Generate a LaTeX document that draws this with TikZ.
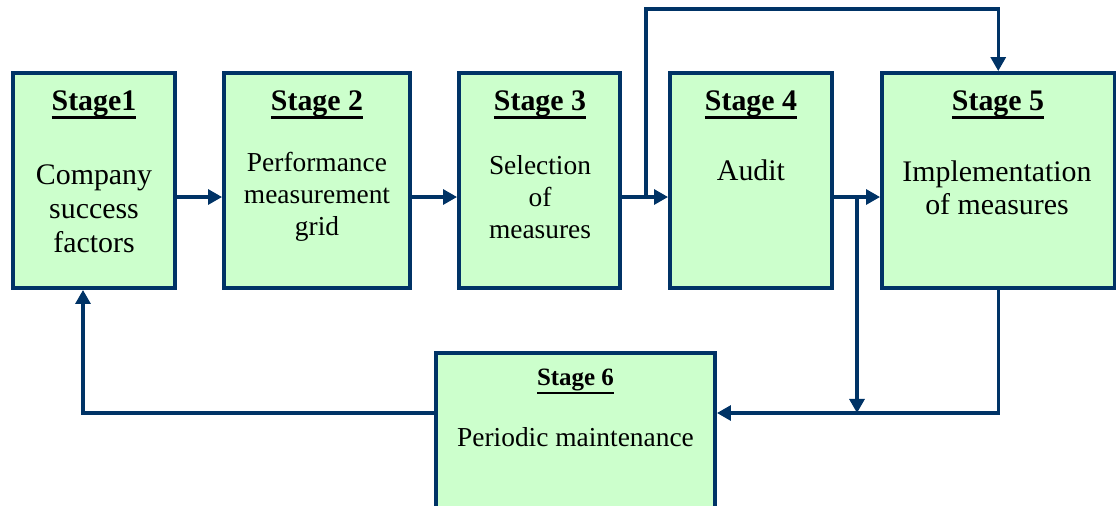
\documentclass[tikz,border=0pt]{standalone}
\usepackage{fontspec}
\setmainfont{Liberation Serif}
\usetikzlibrary{arrows.meta,fit}
\definecolor{navy}{HTML}{003366}
\definecolor{mint}{HTML}{CCFFCC}
\newcommand{\headline}[2][1.5pt]{\setbox0\hbox{#2}\rlap{\rule[-5pt]{\wd0}{#1}}\box0}

\begin{document}
\begin{tikzpicture}[x=0.02cm, y=-0.02cm,
    stagebox/.style={draw=navy, fill=mint, line width=2.2pt, inner sep=0pt},
    flow/.style={draw=navy, line width=1.9pt, -{Triangle[length=8pt,width=8.5pt]}},
    stagetitle/.style={anchor=base, font=\bfseries\fontsize{17}{20}\selectfont},
    stagetext/.style={align=center, font=\fontsize{17}{19.3}\selectfont}]

    \useasboundingbox (0,0) rectangle (1117,505);
    \clip (0,0) rectangle (1117,505);

    % boxes
    \node[stagebox, fit={(13,73) (175,288)}] (s1) {};
    \node[stagebox, fit={(224,73) (410,288)}] (s2) {};
    \node[stagebox, fit={(459,73) (620,288)}] (s3) {};
    \node[stagebox, fit={(670,73) (832,288)}] (s4) {};
    \node[stagebox, fit={(882,73) (1114.5,288)}] (s5) {};
    \node[stagebox, fit={(436,353) (715,540)}] (s6) {};

    % texts
    \node[stagetitle] (t1) at (94,110) {\headline{Stage1}};
    \node[stagetitle] (t2) at (317,110) {\headline{Stage 2}};
    \node[stagetitle] (t3) at (540,110) {\headline{Stage 3}};
    \node[stagetitle] (t4) at (751,110) {\headline{Stage 4}};
    \node[stagetitle] (t5) at (998,110) {\headline{Stage 5}};
    \node[stagetitle, font=\bfseries\fontsize{14.2}{17}\selectfont] (t6) at (575.5,385) {\headline[1.3pt]{Stage 6}};

    \node[stagetext] (b1) at (94,209) {Company\\success\\factors};
    \node[stagetext, font=\fontsize{15.6}{18.1}\selectfont] (b2) at (317,197) {Performance\\measurement\\grid};
    \node[stagetext, font=\fontsize{15.6}{18.1}\selectfont] (b3) at (540,197) {Selection\\of\\measures};
    \node[stagetext] (b4) at (751,170) {Audit};
    \node[stagetext, font=\fontsize{17}{18.7}\selectfont] (b5) at (997,188) {Implementation\\of measures};
    \node[stagetext, font=\fontsize{15.6}{18}\selectfont] (b6) at (575.5,437) {Periodic maintenance};

    % connectors
    \coordinate (row) at (0,197);
    \coordinate (low) at (0,413);
    \coordinate (up) at (0,9);
    \coordinate (split) at (646,197);
    \coordinate (drop) at (857,197);
    \coordinate (back) at (83,0);

    \draw[flow] (s1.east |- row) -- (s2.west |- row);
    \draw[flow] (s2.east |- row) -- (s3.west |- row);
    \draw[flow] (s3.east |- row) -- (s4.west |- row);
    \draw[flow] (s4.east |- row) -- (s5.west |- row);
    \draw[flow] (split) -- (split |- up) -| (s5.north);
    \draw[flow] (drop) -- (drop |- low);
    \draw[flow] (s5.south) |- (s6.east |- low);
    \draw[flow] (s6.west |- low) -| (back |- s1.south);
\end{tikzpicture}
\end{document}
